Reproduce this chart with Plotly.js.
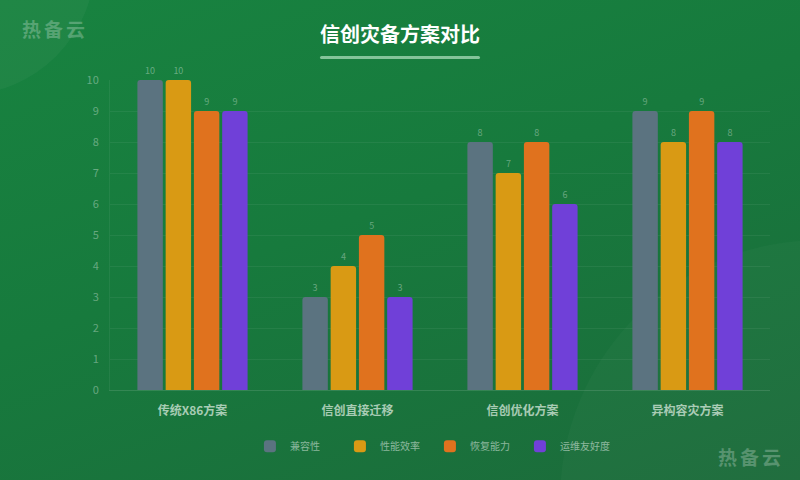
<!DOCTYPE html>
<html>
<head>
<meta charset="utf-8">
<script src="https://cdn.plot.ly/plotly-3.0.1.min.js"></script>
<style>
  html, body { margin: 0; padding: 0; }
  body {
    width: 800px; height: 480px; overflow: hidden; position: relative;
    background: linear-gradient(160deg, #188340 0%, #177a3d 45%, #1c6b3b 100%);
    font-family: "Noto Sans CJK SC", "Noto Sans", sans-serif;
  }
  .deco1 {
    position: absolute; left: -170px; top: -170px; width: 265px; height: 265px;
    border-radius: 50%; background: rgba(255,255,255,0.035);
  }
  .deco2 {
    position: absolute; left: 560px; top: 240px; width: 520px; height: 520px;
    border-radius: 50%; background: rgba(255,255,255,0.025);
  }
  .title {
    position: absolute; left: 0; width: 800px; top: 19px; text-align: center;
    color: #fff; font-size: 20px; font-weight: bold;
  }
  .underline {
    position: absolute; left: 320px; top: 56px; width: 160px; height: 3px;
    border-radius: 2px; background: rgba(170,220,185,0.75);
  }
  .wm { position: absolute; color: rgba(255,255,255,0.25); font-size: 19px; font-weight: bold; letter-spacing: 3px; }
  #chart { position: absolute; left: 0; top: 0; width: 800px; height: 480px; }
</style>
</head>
<body>
<div class="deco1"></div>
<div class="deco2"></div>
<div id="chart"></div>
<div class="title">信创灾备方案对比</div>
<div class="underline"></div>
<div class="wm" style="left:22px;top:15px;">热备云</div>
<div class="wm" style="left:718px;top:443px;">热备云</div>
<script>
// категории и серии
const categories = ['传统X86方案', '信创直接迁移', '信创优化方案', '异构容灾方案'];
const seriesNames = ['兼容性', '性能效率', '恢复能力', '运维友好度'];
const compatibility = [10, 3, 8, 9];
const performance = [10, 4, 7, 8];
const recovery = [9, 5, 8, 9];
const opsFriendly = [9, 3, 6, 8];
const seriesColors = ['#5b7380', '#d99a14', '#e0721e', '#7040d8'];
const yTicks = [0, 1, 2, 3, 4, 5, 6, 7, 8, 9, 10];

const allValues = [compatibility, performance, recovery, opsFriendly];

const data = allValues.map((vals, i) => ({
  x: categories,
  y: vals,
  name: seriesNames[i],
  type: 'bar',
  text: vals.map(String),
  textposition: 'outside',
  cliponaxis: false,
  textfont: { size: 9, color: 'rgba(255,255,255,0.35)' },
  marker: { color: seriesColors[i], cornerradius: 3 },
  hoverinfo: 'none'
}));

const layout = {
  width: 800,
  height: 480,
  paper_bgcolor: 'rgba(0,0,0,0)',
  plot_bgcolor: 'rgba(0,0,0,0)',
  font: { family: '"Noto Sans CJK SC", "Noto Sans", sans-serif' },
  margin: { l: 110, r: 30, t: 80, b: 90, autoexpand: false },
  barmode: 'group',
  bargap: 0.315,
  bargroupgap: 0.1,
  showlegend: true,
  legend: {
    orientation: 'h',
    x: 0.212, xanchor: 'left',
    y: -0.135, yanchor: 'top',
    font: { size: 10, color: 'rgba(255,255,255,0.5)' },
    entrywidth: 45,
    entrywidthmode: 'pixels',
    itemwidth: 30,
    tracegroupgap: 0
  },
  xaxis: {
    tickfont: { size: 12, color: 'rgba(225,240,228,0.72)', weight: 'bold' },
    showgrid: false,
    zeroline: false,
    showline: true,
    linecolor: 'rgba(255,255,255,0.12)',
    ticks: '',
    ticklabelstandoff: 10
  },
  yaxis: {
    range: [0, 10],
    tickvals: yTicks,
    tickfont: { size: 11, color: 'rgba(255,255,255,0.35)' },
    showgrid: true,
    gridcolor: 'rgba(255,255,255,0.06)',
    zeroline: false,
    showline: true,
    linecolor: 'rgba(255,255,255,0.06)',
    ticks: '',
    ticklabelstandoff: 8
  }
};

Plotly.newPlot('chart', data, layout, { staticPlot: true });
</script>
</body>
</html>
